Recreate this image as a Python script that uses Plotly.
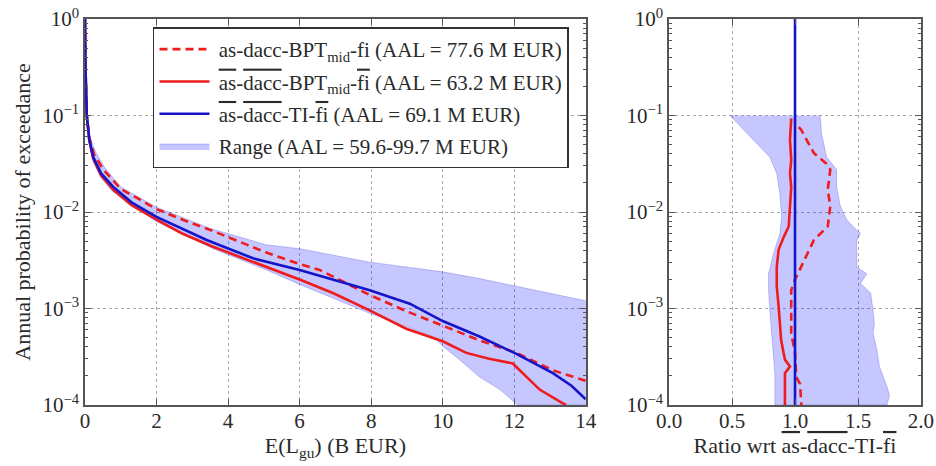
import numpy as np
import plotly.graph_objects as go

# ---------------- data ----------------
# Left panel: loss E(L_gu) in B EUR vs log10(annual probability of exceedance)
blue_x = [0, 0.01, 0.05, 0.12, 0.23, 0.45, 0.79, 1.3, 2.0, 2.7, 3.4, 4.7, 6.0, 6.56,
          7.96, 9.08, 10.0, 11.03, 12.06, 13.08, 13.6, 14.0]
blue_lp = [0, -0.45, -1.0, -1.25, -1.43, -1.6, -1.74, -1.9, -2.05, -2.17, -2.29, -2.48,
           -2.6, -2.66, -2.81, -2.95, -3.13, -3.29, -3.47, -3.67, -3.8, -3.94]

dash_x = [0, 0.01, 0.05, 0.12, 0.25, 0.51, 1.0, 2.0, 2.8, 3.6, 5.07, 6.0, 6.56, 7.96,
          9.0, 10.0, 11.03, 12.06, 13.08, 13.92, 14.0]
dash_lp = [0, -0.45, -1.0, -1.23, -1.4, -1.56, -1.76, -1.97, -2.09, -2.2, -2.42, -2.54,
           -2.6, -2.86, -3.03, -3.18, -3.33, -3.46, -3.64, -3.74, -3.75]

red_x = [0, 0.01, 0.05, 0.12, 0.23, 0.45, 0.79, 1.3, 2.0, 2.7, 3.58, 5.07, 6.0, 6.93,
         7.96, 8.98, 10.0, 10.66, 11.3, 11.96, 12.34, 12.71, 13.35, 13.45]
red_lp = [0, -0.45, -1.0, -1.26, -1.45, -1.62, -1.77, -1.93, -2.08, -2.22, -2.36, -2.57,
          -2.70, -2.84, -3.02, -3.21, -3.34, -3.46, -3.52, -3.57, -3.71, -3.84, -3.98, -4.0]

band_hi_x = [0, 0.01, 0.05, 0.13, 0.3, 0.55, 1.0, 2.0, 3.5, 5.07, 6.0, 7.96, 10.0,
             11.03, 12.06, 14.0, 14.0]
band_hi_lp = [0, -0.45, -1.0, -1.22, -1.38, -1.54, -1.74, -1.95, -2.17, -2.34, -2.38,
              -2.52, -2.62, -2.69, -2.77, -2.92, -4.0]
band_lo_x = [0, 0.01, 0.05, 0.11, 0.22, 0.43, 0.78, 2.0, 3.58, 5.07, 6.0, 7.96, 9.73,
             10.0, 10.47, 11.03, 11.6, 12.1]
band_lo_lp = [0, -0.45, -1.0, -1.27, -1.47, -1.64, -1.79, -2.1, -2.38, -2.6, -2.75,
              -3.05, -3.29, -3.39, -3.53, -3.71, -3.84, -4.0]

# Right panel: ratio wrt reference model vs log10(probability)
rb_left_r = [0.484, 0.59, 0.696, 0.80, 0.855, 0.88, 0.894, 0.88, 0.83, 0.79, 0.79, 0.80,
             0.815, 0.83, 0.84, 0.84]
rb_left_lp = [-1.0, -1.15, -1.29, -1.43, -1.6, -1.81, -2.05, -2.22, -2.43, -2.64, -2.81,
              -3.02, -3.26, -3.46, -3.67, -4.0]
rb_right_r = [1.2, 1.21, 1.25, 1.33, 1.33, 1.36, 1.41, 1.49, 1.52, 1.49, 1.49, 1.57,
              1.52, 1.60, 1.62, 1.63, 1.62, 1.65, 1.67, 1.73, 1.75, 1.73]
rb_right_lp = [-1.0, -1.18, -1.43, -1.56, -1.74, -1.94, -2.08, -2.19, -2.22, -2.29,
               -2.57, -2.64, -2.74, -2.84, -3.02, -3.16, -3.26, -3.43, -3.60, -3.81,
               -3.90, -4.0]
r_red_r = [0.97, 0.96, 0.97, 0.96, 0.97, 0.96, 0.95, 0.91, 0.87, 0.855, 0.855, 0.87,
           0.88, 0.89, 0.92, 0.96, 0.92, 0.92]
r_red_lp = [-1.03, -1.25, -1.46, -1.6, -1.74, -1.94, -2.15, -2.26, -2.39, -2.57, -2.77,
            -2.98, -3.12, -3.33, -3.53, -3.6, -3.67, -4.0]
r_dash_r = [1.03, 1.05, 1.15, 1.25, 1.28, 1.26, 1.28, 1.26, 1.15, 1.07, 1.0, 0.97,
            0.97, 0.97, 1.0, 1.01, 1.04, 1.05]
r_dash_lp = [-1.12, -1.15, -1.39, -1.5, -1.56, -1.77, -1.94, -2.15, -2.29, -2.50, -2.70,
             -2.81, -3.08, -3.26, -3.46, -3.71, -3.78, -4.0]
r_blue_r = [1.0, 1.0]
r_blue_lp = [0, -4]

ytick_vals = [1e-4, 1e-3, 1e-2, 1e-1, 1]
ytick_text = ["10<sup>−4</sup>", "10<sup>−3</sup>", "10<sup>−2</sup>", "10<sup>−1</sup>",
              "10<sup>0</sup>"]
xl_ticks = [0, 2, 4, 6, 8, 10, 12, 14]
xr_ticks = [0.0, 0.5, 1.0, 1.5, 2.0]
xr_text = ["0.0", "0.5", "1.0", "1.5", "2.0"]

OL = "<span style='text-decoration:overline'>{}</span>"
SP = "\u2009"
names = [
    SP + "as-dacc-BPT<sub>mid</sub>-fi (AAL = 77.6 M EUR)",
    SP + OL.format("as") + "-" + OL.format("dacc") + "-BPT<sub>mid</sub>-" + OL.format("fi")
    + " (AAL = 63.2 M EUR)",
    SP + OL.format("as") + "-" + OL.format("dacc") + "-TI-" + OL.format("fi")
    + " (AAL = 69.1 M EUR)",
    SP + "Range (AAL = 59.6-99.7 M EUR)",
]
ratio_title = ("Ratio wrt " + OL.format("as") + "-" + OL.format("dacc") + "-TI-"
               + OL.format("fi"))

# ---------------- figure ----------------
P = lambda v: (10.0 ** np.asarray(v, dtype=float))
RED = "#ee1c1c"
BLUE = "#1414c8"
FILL = "rgba(0,0,255,0.22)"
EDGE = "rgba(60,60,220,0.35)"
FONT = "Liberation Serif"
TXT = "#2a2a2a"

fig = go.Figure()

bx = list(band_hi_x) + list(band_lo_x[::-1])
by = list(band_hi_lp) + list(band_lo_lp[::-1])
fig.add_trace(go.Scatter(x=bx, y=P(by), mode="lines", fill="toself", fillcolor=FILL,
                         line=dict(color=EDGE, width=0.8), name=names[3],
                         legendgroup="g4", legendrank=4, xaxis="x", yaxis="y"))
fig.add_trace(go.Scatter(x=dash_x, y=P(dash_lp), mode="lines",
                         line=dict(color=RED, width=2.6, dash="8px,5px"), name=names[0],
                         legendgroup="g1", legendrank=1, xaxis="x", yaxis="y"))
fig.add_trace(go.Scatter(x=red_x, y=P(red_lp), mode="lines",
                         line=dict(color=RED, width=2.6), name=names[1],
                         legendgroup="g2", legendrank=2, xaxis="x", yaxis="y"))
fig.add_trace(go.Scatter(x=blue_x, y=P(blue_lp), mode="lines",
                         line=dict(color=BLUE, width=2.6), name=names[2],
                         legendgroup="g3", legendrank=3, xaxis="x", yaxis="y"))

rx = list(rb_left_r) + list(rb_right_r[::-1])
ry = list(rb_left_lp) + list(rb_right_lp[::-1])
fig.add_trace(go.Scatter(x=rx, y=P(ry), mode="lines", fill="toself", fillcolor=FILL,
                         line=dict(color=EDGE, width=0.8), showlegend=False,
                         xaxis="x2", yaxis="y2"))
fig.add_trace(go.Scatter(x=r_dash_r, y=P(r_dash_lp), mode="lines",
                         line=dict(color=RED, width=2.6, dash="8px,5px"), showlegend=False,
                         xaxis="x2", yaxis="y2"))
fig.add_trace(go.Scatter(x=r_red_r, y=P(r_red_lp), mode="lines",
                         line=dict(color=RED, width=2.6), showlegend=False,
                         xaxis="x2", yaxis="y2"))
fig.add_trace(go.Scatter(x=r_blue_r, y=P(r_blue_lp), mode="lines",
                         line=dict(color=BLUE, width=2.6), showlegend=False,
                         xaxis="x2", yaxis="y2"))

axis_common = dict(showline=True, linecolor="#555555", linewidth=1.5, mirror="ticks",
                   ticks="inside", tickcolor="#555555", ticklen=6, tickwidth=1,
                   showgrid=True, gridcolor="#aaaaaa", griddash="dot", gridwidth=1,
                   zeroline=False, automargin=False,
                   tickfont=dict(family=FONT, size=21, color=TXT))

xaxis_common = dict(axis_common, ticklabelstandoff=-4)

yaxis_common = dict(axis_common, type="log", range=[-4, 0], tickvals=ytick_vals,
                    ticktext=ytick_text,
                    minor=dict(ticks="inside", ticklen=3, tickcolor="#555555",
                               dtick="D1", showgrid=False))

title_font = dict(family=FONT, size=22, color=TXT)

fig.update_layout(
    width=936, height=466,
    margin=dict(l=85, r=15, t=19, b=61),
    paper_bgcolor="white", plot_bgcolor="white",
    font=dict(family=FONT, size=21, color=TXT),
    showlegend=True,
    legend=dict(x=0.0813, y=0.978, xanchor="left", yanchor="top",
                bordercolor="#333333", borderwidth=1.5, bgcolor="white",
                font=dict(family=FONT, size=21, color=TXT),
                traceorder="grouped", tracegroupgap=2, itemwidth=50),
    xaxis=dict(xaxis_common, domain=[0, 0.599], range=[0, 14], tickvals=xl_ticks,
               title=dict(text="E(L<sub>gu</sub>) (B EUR)", standoff=1, font=title_font)),
    yaxis=dict(yaxis_common, anchor="x",
               title=dict(text="Annual probability of exceedance", standoff=6,
                          font=title_font)),
    xaxis2=dict(xaxis_common, domain=[0.6986, 1], range=[0, 2], tickvals=xr_ticks,
                ticktext=xr_text, anchor="y2",
                title=dict(text=ratio_title, standoff=1, font=title_font)),
    yaxis2=dict(yaxis_common, anchor="x2"),
)

fig.write_html("out.html")
